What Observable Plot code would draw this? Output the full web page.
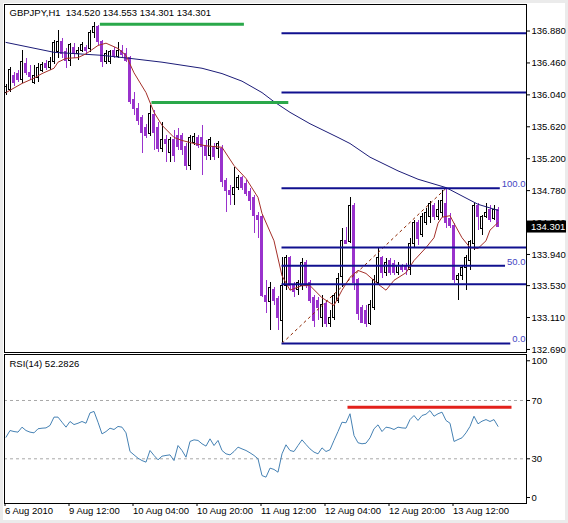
<!DOCTYPE html>
<html><head><meta charset="utf-8">
<script src="https://cdn.jsdelivr.net/npm/d3@7"></script>
<script src="https://cdn.jsdelivr.net/npm/@observablehq/plot@0.6"></script>
<style>
body{margin:0;background:#fff}
#wrap{position:relative;width:568px;height:523px;background:#ebebeb;overflow:hidden}
#inner{position:absolute;left:3px;top:3px;width:562px;height:517px;background:#fff}
#main,#rsi{position:absolute;left:0}
#main{top:0}
#rsi{top:352px}
</style></head><body>
<div id="wrap"><div id="inner"></div><div id="main"></div><div id="rsi"></div></div>
<script>
// ---- data (GBPJPY H1, bar index 0 = first visible bar) ----
const symbol = "GBPJPY,H1";
const open = [136.06,136.10,136.29,136.32,136.23,136.45,136.33,136.20,136.26,136.36,
136.44,136.40,136.47,136.60,136.73,136.60,136.49,136.66,136.58,136.62,
136.66,136.65,136.86,136.93,136.73,136.47,136.47,136.62,136.54,136.62,
136.58,136.52,135.97,135.86,135.73,135.61,135.53,135.77,135.60,135.33,
135.44,135.27,135.44,135.50,135.50,135.35,135.11,135.41,135.47,135.47,
135.37,135.24,135.35,135.33,135.33,134.91,134.78,134.72,134.82,134.94,
134.87,134.76,134.68,134.45,134.43,133.40,133.31,133.47,133.36,133.07,
133.53,133.89,133.53,133.47,133.53,133.83,133.56,133.37,133.33,133.10,
133.29,133.03,133.11,133.33,133.64,134.12,134.10,134.58,133.60,133.24,
133.20,133.03,133.24,133.57,133.89,133.70,133.86,133.82,133.69,133.77,
133.78,133.73,134.08,134.35,134.19,134.36,134.43,134.58,134.43,134.49,
134.61,134.41,134.32,133.60,133.66,133.76,133.86,134.08,134.58,134.28,
134.43,134.52,134.41,134.520];
const high = [136.18,136.40,136.33,136.36,136.62,136.52,136.43,136.43,136.45,136.47,
136.49,136.53,136.75,136.89,136.78,136.65,136.72,136.72,136.66,136.73,
136.69,136.89,136.99,136.95,136.75,136.62,136.62,136.66,136.73,136.69,
136.65,136.54,136.07,135.93,135.77,135.65,135.90,135.83,135.68,135.68,
135.50,135.48,135.57,135.60,135.53,135.40,135.50,135.53,135.50,135.64,
135.44,135.48,135.40,135.43,135.37,134.94,134.85,135.08,134.98,134.96,
134.91,134.81,134.72,134.49,134.45,133.60,133.57,133.50,133.39,133.90,
133.93,133.91,133.57,133.60,133.89,133.86,133.60,133.40,133.37,133.40,
133.33,133.20,133.42,133.69,134.28,134.30,134.69,134.61,133.62,133.27,
133.27,133.33,133.66,134.02,133.91,133.89,133.89,133.86,133.83,133.81,
133.82,134.15,134.39,134.39,134.48,134.54,134.64,134.61,134.65,134.78,
134.81,134.48,134.35,133.69,133.79,133.93,134.12,134.61,134.61,134.45,
134.61,134.58,134.58,134.553];
const low = [136.03,136.07,136.15,136.20,136.19,136.29,136.23,136.18,136.20,136.33,
136.36,136.36,136.44,136.52,136.52,136.39,136.41,136.52,136.49,136.60,
136.56,136.60,136.78,136.69,136.40,136.44,136.44,136.52,136.52,136.53,
136.47,135.91,135.77,135.64,135.27,135.47,135.49,135.31,135.28,135.28,
135.15,135.15,135.15,135.31,135.24,135.04,135.04,135.37,135.33,134.98,
135.17,135.17,135.17,135.20,134.82,134.49,134.58,134.58,134.78,134.78,
134.70,134.52,134.22,134.15,133.37,133.16,132.94,133.27,132.94,132.78,
133.47,133.47,133.37,133.40,133.47,133.49,133.29,132.98,133.07,132.98,
132.98,132.98,133.07,133.29,133.50,134.08,134.08,133.47,133.07,133.03,
132.98,133.00,133.20,133.53,133.62,133.65,133.66,133.66,133.66,133.70,
133.66,133.66,134.03,134.06,134.16,134.32,134.35,134.39,134.39,134.43,
134.28,134.28,133.56,133.33,133.60,133.47,133.73,133.99,134.26,134.19,
134.41,134.36,134.39,134.301];
const close = [136.15,136.37,136.20,136.24,136.47,136.33,136.27,136.29,136.40,136.43,
136.40,136.47,136.72,136.73,136.58,136.49,136.69,136.58,136.62,136.69,
136.62,136.86,136.93,136.73,136.47,136.58,136.60,136.54,136.62,136.56,
136.49,135.94,135.86,135.70,135.54,135.50,135.79,135.54,135.33,135.44,
135.40,135.44,135.24,135.35,135.31,135.11,135.47,135.48,135.37,135.35,
135.24,135.44,135.22,135.40,134.89,134.78,134.72,134.82,134.94,134.82,
134.74,134.65,134.45,134.39,133.40,133.31,133.50,133.33,133.10,133.53,
133.89,133.53,133.44,133.56,133.83,133.53,133.33,133.07,133.23,133.27,
133.03,133.11,133.40,133.62,134.12,134.08,134.58,133.56,133.16,133.04,
133.03,133.27,133.60,133.89,133.69,133.83,133.70,133.70,133.79,133.74,
133.73,134.08,134.35,134.15,134.43,134.49,134.61,134.43,134.52,134.64,
134.35,134.32,133.60,133.66,133.76,133.89,134.10,134.58,134.43,134.43,
134.49,134.39,134.52,134.301];

// long moving average (navy) read at selected bars
const longMaBar = [0,12,24,31,39,49,54,59,64,67,71,76,83,86,91,98,103,110,118,123];
const longMaVal = [136.73,136.60,136.56,136.52,136.47,136.39,136.32,136.22,136.07,135.95,135.81,135.66,135.48,135.40,135.22,135.04,134.93,134.82,134.60,134.52];
// short moving average (brown) read at selected bars
const shortMaBar = [0,4,7,9,12,13,15,18,20,23,25,28,30,32,35,37,39,42,44,47,50,54,57,60,63,64,67,69,71,74,76,79,82,84,86,88,90,93,95,97,100,102,105,107,108,109,111,112,114,116,118,120,121,123];
const shortMaVal = [136.07,136.19,136.26,136.32,136.39,136.47,136.52,136.53,136.58,136.69,136.72,136.65,136.56,136.33,136.07,135.81,135.64,135.48,135.44,135.40,135.37,135.35,135.11,134.94,134.69,134.48,134.12,133.66,133.47,133.53,133.53,133.37,133.27,133.47,133.64,133.73,133.69,133.55,133.47,133.60,133.70,133.86,134.03,134.16,134.35,134.43,134.45,134.35,134.16,134.03,134.02,134.12,134.26,134.36];

// Fibonacci retracement
const fibLowBar = 69, fibLow = 132.77;
const fibHighBar = 110, fibHigh = 134.81;
const fibLevels = [0, 38.2, 50, 61.8, 100, 161.8, 200];
const fibLabels = ["0.0", "", "50.0", "", "100.0", "", ""];

// green horizontal lines (price, start bar, end bar)
const greenPrice = [136.97, 135.94];
const greenFrom = [23.6, 36.5];
const greenTo = [59.6, 70.7];

// RSI(14)
const rsi = [44.8,49.4,48.7,48.3,51.7,49.4,48.3,47.8,50.6,51.0,
51.2,52.9,58.6,58.6,55.1,51.7,55.6,53.5,54.4,55.6,
54.4,61.5,62.5,55.1,47.1,48.7,51.0,50.1,52.2,51.7,
47.8,35.0,32.7,30.4,28.8,27.7,35.7,32.3,29.3,31.8,
32.3,32.7,28.8,39.1,35.7,31.1,41.9,43.0,42.6,40.3,
38.7,43.7,39.1,42.6,35.7,33.4,32.7,35.0,38.0,36.8,
35.7,34.1,32.3,30.0,18.5,17.4,23.6,22.7,20.8,33.4,
39.6,35.7,35.0,39.1,43.0,39.8,36.8,34.6,33.4,37.5,
35.0,36.2,42.6,48.7,55.1,54.7,60.9,46.0,41.0,40.3,
40.7,44.4,50.6,53.3,48.7,51.7,51.2,50.1,51.7,51.2,
51.0,56.9,59.7,56.3,59.7,60.6,63.1,59.2,60.9,62.0,
56.3,54.4,41.9,43.2,44.4,47.8,52.2,59.2,54.0,55.8,
56.9,55.6,56.9,52.2826];
const rsiLevels = [70, 30];
const rsiResistance = 65.4, rsiResFrom = 85.5, rsiResTo = 126.5;

// axes
const priceTicks = [136.880,136.460,136.040,135.620,135.200,134.780,134.360,133.940,133.530,133.110,132.690];
const timeTicks = [0,16,32,48,64,80,96,112];
const timeLabels = ["6 Aug 2010","9 Aug 12:00","10 Aug 04:00","10 Aug 20:00","11 Aug 12:00","12 Aug 04:00","12 Aug 20:00","13 Aug 12:00"];

// ---- build ----
const PURPLE = "#9932cc";
const FONT = "'Liberation Sans', Arial, sans-serif";
const X0 = -0.375, X1 = 130.125;
const bars = open.map((o, i) => ({i, o, h: high[i], l: low[i], c: close[i], up: close[i] >= o}));
const longMA = longMaBar.map((b, k) => ({i: b, v: longMaVal[k]}));
const shortMA = shortMaBar.map((b, k) => ({i: b, v: shortMaVal[k]}));
const fibRows = fibLevels.map((lv, k) => ({p: fibLow + (fibHigh - fibLow) * lv / 100, label: fibLabels[k]}));
const greens = greenPrice.map((p, k) => ({p, a: greenFrom[k], b: greenTo[k]}));
const last = bars[bars.length - 1];
const title = symbol + "\u00a0\u00a0" + [last.o, last.h, last.l, last.c].map(v => v.toFixed(3)).join(" ");

const main = Plot.plot({
  width: 568, height: 354,
  marginTop: 4, marginLeft: 4, marginRight: 42, marginBottom: 2,
  style: {background: "transparent", fontFamily: FONT, fontSize: "9.5px", color: "#000"},
  x: {domain: [X0, X1], axis: null, label: null},
  y: {domain: [132.650, 137.229], label: null},
  marks: [
    Plot.ruleX(bars, {x: "i", y1: "l", y2: "h", stroke: d => d.up ? "#000" : PURPLE, shapeRendering: "crispEdges"}),
    Plot.rect(bars, {x1: d => d.i - 0.3, x2: d => d.i + 0.3, y1: "o", y2: "c",
      fill: d => d.up ? "#fff" : PURPLE, stroke: d => d.up ? "#000" : PURPLE, strokeWidth: 1, shapeRendering: "crispEdges"}),
    Plot.line(longMA, {x: "i", y: "v", stroke: "#1c1c78", strokeWidth: 1}),
    Plot.line(shortMA, {x: "i", y: "v", stroke: "#a5302a", strokeWidth: 1}),
    Plot.link([{a: fibLowBar, b: fibHighBar, pa: fibLow, pb: fibHigh}], {x1: "a", y1: "pa", x2: "b", y2: "pb",
      stroke: "#8b2500", strokeDasharray: "3,3", strokeWidth: 1}),
    Plot.ruleY(fibRows, {y: "p", x1: fibLowBar, x2: d => d.label ? X1 - d.label.length * 1.31 : X1,
      stroke: "#10108f", strokeWidth: 2}),
    Plot.text(fibRows.filter(d => d.label), {x: X1, y: "p", text: "label", textAnchor: "end", lineAnchor: "bottom",
      dx: -1, dy: -1, fill: "#4646c2"}),
    Plot.ruleY(greens, {y: "p", x1: "a", x2: "b", stroke: "#2aa84a", strokeWidth: 3}),
    Plot.axisY(priceTicks, {anchor: "right", tickSize: 3, tickPadding: 2, label: null, tickFormat: d => d.toFixed(3)}),
    Plot.frame({stroke: "#000"}),
    Plot.text([title], {frameAnchor: "top-left", dx: 5, dy: 5, lineAnchor: "top", textAnchor: "start", fill: "#000"})
  ]
});
// current price marker on the price scale
{
  const yc = main.scale("y").apply(last.c);
  const xr = main.scale("x").apply(X1);
  const g = d3.select(main).append("g");
  g.append("rect").attr("x", xr + 1).attr("y", yc - 6).attr("width", 39).attr("height", 12).attr("fill", "#000");
  g.append("text").attr("x", xr + 5).attr("y", yc).attr("dy", "0.35em").attr("fill", "#fff")
    .attr("text-anchor", "start").attr("font-family", FONT).attr("font-size", "9.5px").text(last.c.toFixed(3));
}
document.getElementById("main").appendChild(main);

const rsiRows = rsi.map((v, i) => ({i, v}));
const rsiPlot = Plot.plot({
  width: 568, height: 171,
  marginTop: 2, marginLeft: 4, marginRight: 42, marginBottom: 20,
  style: {background: "transparent", fontFamily: FONT, fontSize: "9.5px", color: "#000"},
  x: {domain: [X0, X1], label: null},
  y: {domain: [-0.67, 101.56], label: null},
  marks: [
    Plot.ruleY(rsiLevels, {stroke: "#a8a8a8", strokeDasharray: "3,3"}),
    Plot.line(rsiRows, {x: "i", y: "v", stroke: "#4682b4", strokeWidth: 1}),
    Plot.ruleY([rsiResistance], {x1: rsiResFrom, x2: rsiResTo, stroke: "#e3201b", strokeWidth: 3}),
    Plot.axisY([70, 30], {anchor: "right", tickSize: 3, tickPadding: 2, label: null}),
    Plot.axisY([100], {anchor: "right", tickSize: 3, tickPadding: 2, dy: 4, label: null}),
    Plot.axisY([0], {anchor: "right", tickSize: 3, tickPadding: 2, dy: -5, label: null}),
    Plot.axisX(timeTicks, {anchor: "bottom", tickSize: 3, tickPadding: 1, textAnchor: "start", dx: -1, label: null,
      tickFormat: d => timeLabels[timeTicks.indexOf(d)]}),
    Plot.frame({stroke: "#000"}),
    Plot.text(["RSI(14) " + rsi[rsi.length - 1].toFixed(4)], {frameAnchor: "top-left", dx: 5, dy: 6, lineAnchor: "top", textAnchor: "start", fill: "#000"})
  ]
});
document.getElementById("rsi").appendChild(rsiPlot);
</script>
</body></html>
